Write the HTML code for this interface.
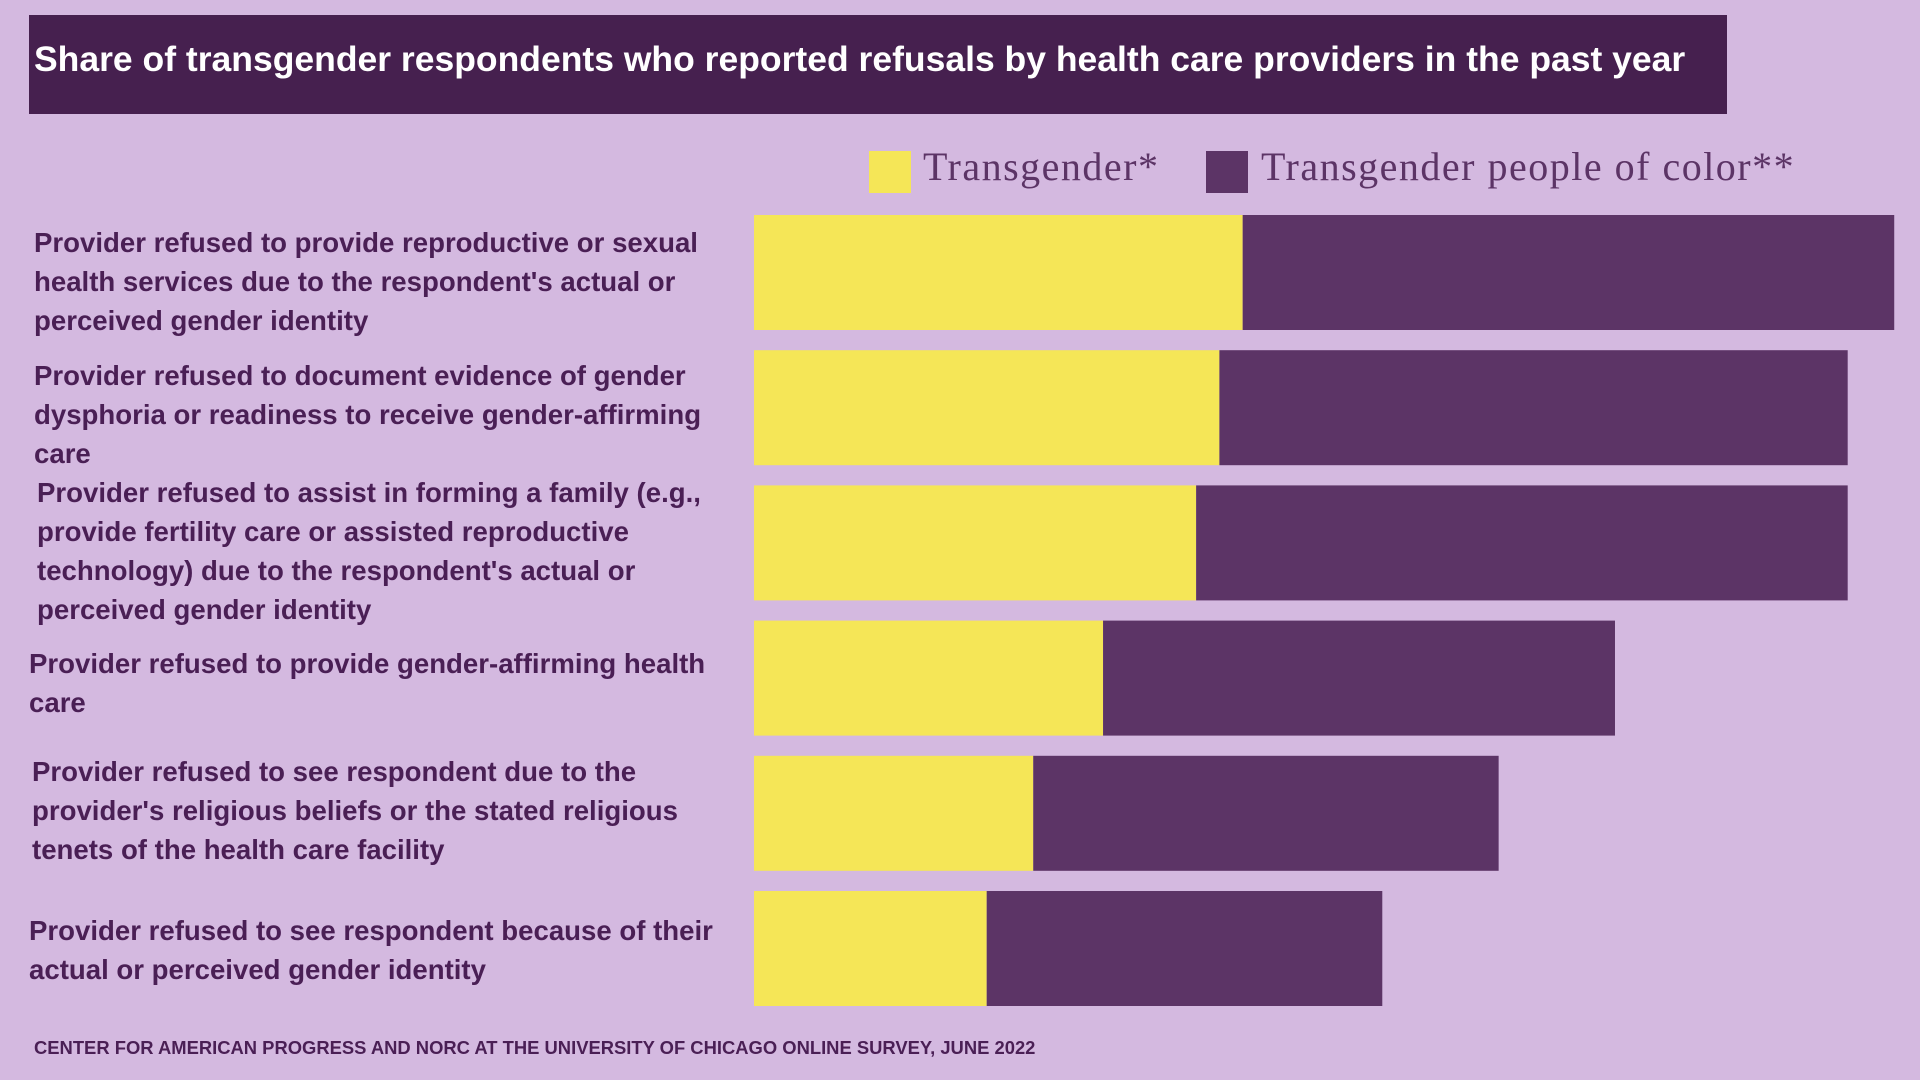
<!DOCTYPE html>
<html><head><meta charset="utf-8"><style>
body{margin:0;width:1920px;height:1080px;background:#d4b9e0;position:relative;overflow:hidden;font-family:"Liberation Sans",sans-serif}
#title{position:absolute;left:29px;top:15px;width:1698px;height:99px;background:#46204f;color:#fff;font-weight:bold;font-size:35.5px;line-height:89px;padding-left:5px;box-sizing:border-box;white-space:nowrap}
.lab{position:absolute;color:#4a1f55;font-weight:bold;font-size:27.6px;line-height:39px;white-space:nowrap}
.leg{position:absolute;top:151px;width:42px;height:42px}
.legt{position:absolute;top:143px;font-family:"Liberation Serif",serif;font-size:40px;letter-spacing:1.5px;color:#5c3466;white-space:nowrap}
#foot{position:absolute;left:34px;top:1037px;font-size:18.4px;font-weight:bold;color:#4a1f55;white-space:nowrap}
</style></head><body>
<div id="title">Share of transgender respondents who reported refusals by health care providers in the past year</div>
<div class="leg" style="left:869px;background:#f5e657"></div>
<div class="legt" style="left:923px">Transgender*</div>
<div class="leg" style="left:1206px;background:#5c3466"></div>
<div class="legt" style="left:1261px">Transgender people of color**</div>
<div class="lab" style="left:34px;top:223px">Provider refused to provide reproductive or sexual<br>health services due to the respondent's actual or<br>perceived gender identity</div>
<div class="lab" style="left:34px;top:356px">Provider refused to document evidence of gender<br>dysphoria or readiness to receive gender-affirming<br>care</div>
<div class="lab" style="left:37px;top:473px">Provider refused to assist in forming a family (e.g.,<br>provide fertility care or assisted reproductive<br>technology) due to the respondent's actual or<br>perceived gender identity</div>
<div class="lab" style="left:29px;top:644px">Provider refused to provide gender-affirming health<br>care</div>
<div class="lab" style="left:32px;top:752px">Provider refused to see respondent due to the<br>provider's religious beliefs or the stated religious<br>tenets of the health care facility</div>
<div class="lab" style="left:29px;top:911px">Provider refused to see respondent because of their<br>actual or perceived gender identity</div>
<svg id="chart" width="1920" height="1080" style="position:absolute;left:0;top:0"></svg>
<div id="foot">CENTER FOR AMERICAN PROGRESS AND NORC AT THE UNIVERSITY OF CHICAGO ONLINE SURVEY, JUNE 2022</div>
<script>
const categories=["reproductive","dysphoria","family","gender-affirming","religious","identity"];
const transgender=[21,20,19,15,12,10];
const peopleOfColor=[28,27,28,22,20,17];
const svg=document.getElementById('chart');
const NS='http://www.w3.org/2000/svg';
function x(v){return 754+v*23.27;}
function y(i){return 215+i*135.2;}
const bh=115;
categories.forEach((c,i)=>{
  const a=transgender[i],b=peopleOfColor[i];
  const r1=document.createElementNS(NS,'rect');
  r1.setAttribute('x',x(0));r1.setAttribute('y',y(i));r1.setAttribute('width',x(a)-x(0));r1.setAttribute('height',bh);r1.setAttribute('fill','#f5e657');
  
  
  svg.appendChild(r1);
  const r2=document.createElementNS(NS,'rect');
  r2.setAttribute('x',x(a));r2.setAttribute('y',y(i));r2.setAttribute('width',x(a+b)-x(a));r2.setAttribute('height',bh);r2.setAttribute('fill','#5c3466');
  
  
  svg.appendChild(r2);
});
</script>
</body></html>
